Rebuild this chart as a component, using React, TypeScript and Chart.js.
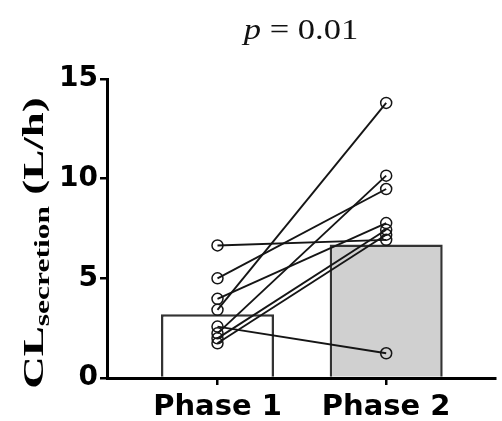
import React, { useEffect, useRef } from "react";
import { Chart, registerables } from "chart.js";

Chart.register(...registerables);

const categories = ["Phase 1", "Phase 2"];
const barValues = [3.2, 6.7];
const phase1Values = [6.65, 5.0, 3.97, 3.42, 2.58, 2.24, 1.99, 1.74];
const phase2Values = [6.93, 9.48, 7.77, 13.8, 1.24, 10.15, 7.44, 7.19];
const yTickValues = [0, 5, 10, 15];
const pText = "p";
const pValueText = " = 0.01";
const yTitleMain = "CL";
const yTitleSub = "secretion";
const yTitleUnit = " (L/h)";

const overlayPlugin = {
  id: "overlayText",
  afterDraw(chart: any) {
    const { ctx, chartArea } = chart;
    ctx.save();
    // p-value title
    ctx.fillStyle = "#111";
    ctx.textBaseline = "alphabetic";
    const italic = 'italic 30px "Liberation Serif", serif';
    const regular = '30px "Liberation Serif", serif';
    ctx.font = italic;
    const w1 = ctx.measureText(pText).width;
    ctx.font = regular;
    const w2 = ctx.measureText(pValueText).width;
    const tStretch = 1.15;
    const cx = (chartArea.left + chartArea.right) / 2;
    ctx.save();
    ctx.translate(cx, 39);
    ctx.scale(tStretch, 1);
    const startX = -(w1 + w2) / 2;
    ctx.font = italic;
    ctx.fillText(pText, startX, 0);
    ctx.font = regular;
    ctx.fillText(pValueText, startX + w1, 0);
    ctx.restore();

    // Y axis title, rotated
    const fMain = 'bold 30px "Liberation Serif", serif';
    const fSub = 'bold 21px "Liberation Serif", serif';
    ctx.font = fMain;
    const a = ctx.measureText(yTitleMain).width;
    const c = ctx.measureText(yTitleUnit).width;
    ctx.font = fSub;
    const b = ctx.measureText(yTitleSub).width;
    const stretch = 1.5;
    const total = (a + b + c) * stretch;
    const centerY = 243;
    ctx.translate(43, centerY);
    ctx.rotate(-Math.PI / 2);
    ctx.scale(stretch, 1);
    let x = -total / 2 / stretch;
    ctx.fillStyle = "#000";
    ctx.font = fMain;
    ctx.fillText(yTitleMain, x, 0);
    x += a;
    ctx.font = fSub;
    ctx.fillText(yTitleSub, x, 6);
    x += b;
    ctx.font = fMain;
    ctx.fillText(yTitleUnit, x, 0);
    ctx.restore();
  },
};

export default function App() {
  const canvasRef = useRef<HTMLCanvasElement | null>(null);

  useEffect(() => {
    document.body.style.margin = "0";
    const canvas = canvasRef.current;
    if (!canvas) return;

    const lineDatasets = phase1Values.map((v, i) => ({
      type: "line" as const,
      label: "Subject " + (i + 1),
      data: [
        { x: 1, y: v },
        { x: 2, y: phase2Values[i] },
      ],
      borderColor: "#151515",
      borderWidth: 1.9,
      pointRadius: 5.5,
      pointBorderWidth: 1.5,
      pointBorderColor: "#151515",
      pointBackgroundColor: "rgba(255,255,255,0)",
      fill: false,
      order: 0,
      clip: false as any,
    }));

    const chart = new Chart(canvas, {
      type: "bar",
      data: {
        datasets: [
          {
            type: "bar" as const,
            label: "Bars",
            data: barValues.map((v, i) => ({ x: i + 1, y: v })),
            backgroundColor: ["#ffffff", "#d0d0d0"],
            borderColor: "#333333",
            borderWidth: 2.5,
            barPercentage: 0.67,
            categoryPercentage: 1,
            order: 2,
          } as any,
          ...lineDatasets,
        ],
      },
      options: {
        responsive: false,
        animation: false,
        layout: { padding: { left: 0, right: 2, top: 79, bottom: 0 } },
        plugins: {
          legend: { display: false },
          tooltip: { enabled: false },
          title: { display: false },
        },
        scales: {
          x: {
            type: "linear",
            offset: false,
            min: 0.345,
            max: 2.645,
            afterBuildTicks: (axis: any) => {
              axis.ticks = categories.map((_, i) => ({ value: i + 1 }));
            },
            afterFit: (s: any) => {
              s.height = 43;
            },
            ticks: {
              autoSkip: false,
              maxRotation: 0,
              minRotation: 0,
              padding: 5,
              color: "#000",
              font: { family: '"DejaVu Sans", sans-serif', size: 29, weight: "bold" },
              callback: (v: any) => categories[Number(v) - 1] ?? "",
            },
            grid: {
              display: true,
              offset: false,
              drawOnChartArea: false,
              drawTicks: true,
              tickLength: 7,
              lineWidth: 2.5,
              color: "#000",
            },
            border: { display: true, width: 3, color: "#000" },
          },
          y: {
            type: "linear",
            min: 0,
            max: 15,
            afterBuildTicks: (axis: any) => {
              axis.ticks = yTickValues.map((v) => ({ value: v }));
            },
            afterFit: (s: any) => {
              s.width = 107;
            },
            ticks: {
              padding: 2,
              color: "#000",
              font: { family: '"DejaVu Sans", sans-serif', size: 28, weight: "bold" },
            },
            grid: {
              display: true,
              drawOnChartArea: false,
              drawTicks: true,
              tickLength: 7,
              lineWidth: 2.5,
              color: "#000",
            },
            border: { display: true, width: 3, color: "#000" },
          },
        },
      } as any,
      plugins: [overlayPlugin],
    });

    return () => {
      chart.destroy();
    };
  }, []);

  return (
    <canvas
      ref={canvasRef}
      width={502}
      height={421}
      style={{ display: "block", width: "502px", height: "421px" }}
    />
  );
}
